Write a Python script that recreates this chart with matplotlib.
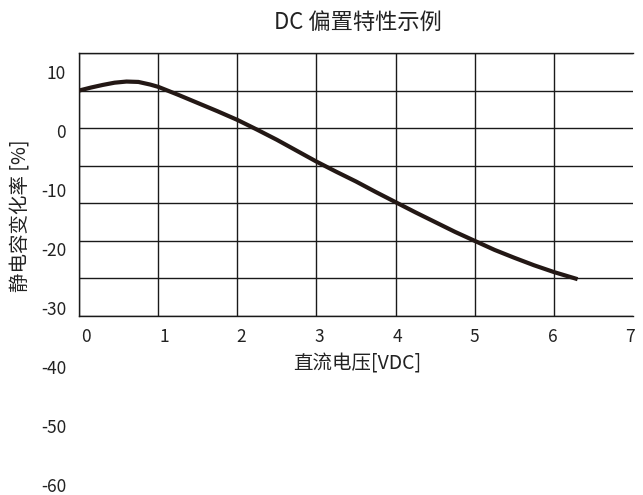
import matplotlib
matplotlib.use("Agg")
import matplotlib.pyplot as plt

plt.rcParams['font.family'] = ['Noto Sans CJK SC', 'DejaVu Sans']
plt.rcParams['font.weight'] = 300

# DC bias curve
voltage = [0, 0.15, 0.3, 0.45, 0.6, 0.75, 0.9, 1.0, 1.25, 1.5, 1.75, 2.0, 2.25, 2.5,
           2.75, 3.0, 3.25, 3.5, 3.75, 4.0, 4.25, 4.5, 4.75, 5.0, 5.25, 5.5, 5.75, 6.0, 6.3]
cap_change = [0, 0.8, 1.5, 2.1, 2.4, 2.3, 1.6, 1.0, -1.1, -3.3, -5.5, -7.8, -10.4, -13.1,
              -16.0, -18.9, -21.6, -24.2, -27.0, -29.7, -32.4, -35.0, -37.6, -40.0, -42.4,
              -44.5, -46.5, -48.3, -50.2]

x_ticks = [0, 1, 2, 3, 4, 5, 6, 7]
y_ticks = [10, 0, -10, -20, -30, -40, -50, -60]

title = "DC 偏置特性示例"
x_title = "直流电压[VDC]"
y_title = "静电容变化率 [%]"

W, H = 643, 495
text_color = "#222222"
line_color = "#1a1a1a"


def box(x0, y0, x1, y1):
    # pixel box (top-left origin) -> figure fraction rect
    return [x0 / W, 1 - y1 / H, (x1 - x0) / W, (y1 - y0) / H]


fig = plt.figure(figsize=(W / 100, H / 100), dpi=100)

# plot area with grid
ax = fig.add_axes(box(79, 53, 633, 316))
ax.plot(voltage, cap_change, color="#231815", linewidth=3.0, solid_capstyle="butt", zorder=3)
ax.set_xlim(x_ticks[0], x_ticks[-1])
ax.set_ylim(min(y_ticks), max(y_ticks))
ax.set_xticks(x_ticks[:-1])
ax.set_yticks(y_ticks)
ax.tick_params(length=0, labelbottom=False, labelleft=False)
ax.grid(True, color=line_color, linewidth=1.0)
ax.spines['right'].set_visible(False)
for side in ['left', 'top', 'bottom']:
    ax.spines[side].set_color(line_color)
    ax.spines[side].set_linewidth(1.0)

# y tick labels (spaced differently from the grid, as in the picture)
ay = fig.add_axes(box(66, 74, 67, 487.5))
ay.set_ylim(min(y_ticks), max(y_ticks))
ay.set_yticks(y_ticks)
ay.set_yticklabels([str(v) for v in y_ticks])
ay.tick_params(length=0, pad=0, labelsize=12.5, labelcolor=text_color, bottom=False, labelbottom=False)
plt.setp(ay.get_yticklabels(), va="center")
ay.patch.set_visible(False)
for s in ay.spines.values():
    s.set_visible(False)

# x tick labels
axl = fig.add_axes(box(86.2, 330, 630, 336.7))
axl.set_xlim(x_ticks[0], x_ticks[-1])
axl.set_xticks(x_ticks)
axl.set_xticklabels([str(v) for v in x_ticks])
axl.tick_params(length=0, pad=0, labelsize=12.5, labelcolor=text_color, left=False, labelleft=False)
plt.setp(axl.get_xticklabels(), va="center")
axl.patch.set_visible(False)
for s in axl.spines.values():
    s.set_visible(False)

fig.text(357.5 / W, 1 - 22 / H, title, ha="center", va="center", fontsize=16, color=text_color)
fig.text(357.5 / W, 1 - 364 / H, x_title, ha="center", va="center", fontsize=14, color=text_color)
fig.text(21 / W, 1 - 215.5 / H, y_title, ha="center", va="center", rotation=90, fontsize=14,
         color=text_color)

fig.savefig("out.png", dpi=100)
